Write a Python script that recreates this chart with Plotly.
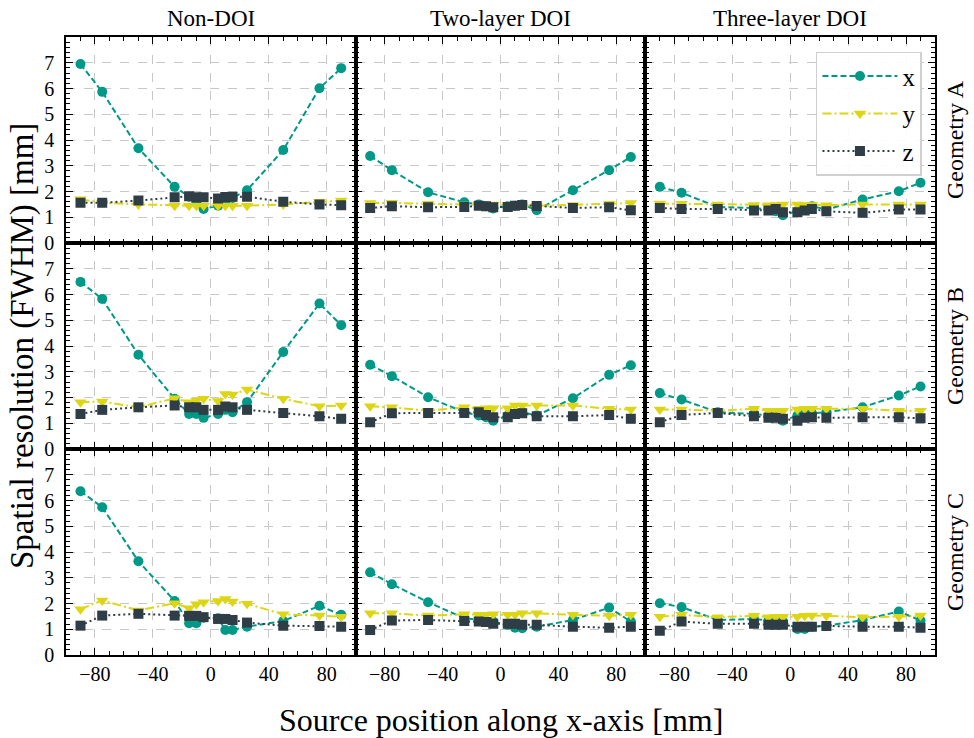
import plotly.graph_objects as go
from plotly.subplots import make_subplots

# Source positions along the x-axis [mm]
positions = [-90, -75, -50, -25, -15, -10, -5, 5, 10, 15, 25, 50, 75, 90]

col_titles = ["Non-DOI", "Two-layer DOI", "Three-layer DOI"]
row_titles = ["Geometry A", "Geometry B", "Geometry C"]
series_names = ["x", "y", "z"]

# Geometry A
A_non_x = [6.95, 5.87, 3.68, 2.18, 1.80, 1.60, 1.32, 1.45, 1.60, 1.75, 2.05, 3.61, 6.01, 6.79]
A_non_y = [1.70, 1.56, 1.50, 1.45, 1.45, 1.45, 1.45, 1.45, 1.45, 1.45, 1.45, 1.50, 1.60, 1.65]
A_non_z = [1.56, 1.56, 1.65, 1.78, 1.82, 1.78, 1.78, 1.73, 1.79, 1.80, 1.80, 1.60, 1.50, 1.47]
A_two_x = [3.38, 2.83, 1.97, 1.58, 1.50, 1.43, 1.34, 1.43, 1.45, 1.50, 1.27, 2.05, 2.83, 3.34]
A_two_y = [1.55, 1.56, 1.52, 1.50, 1.48, 1.48, 1.50, 1.48, 1.47, 1.47, 1.45, 1.48, 1.52, 1.55]
A_two_z = [1.36, 1.43, 1.39, 1.40, 1.45, 1.43, 1.39, 1.40, 1.45, 1.48, 1.44, 1.36, 1.39, 1.27]
A_three_x = [2.18, 1.95, 1.40, 1.36, 1.30, 1.23, 1.08, 1.23, 1.32, 1.43, 1.30, 1.69, 2.01, 2.34]
A_three_y = [1.53, 1.52, 1.50, 1.48, 1.47, 1.48, 1.50, 1.50, 1.48, 1.48, 1.47, 1.50, 1.50, 1.50]
A_three_z = [1.36, 1.32, 1.32, 1.26, 1.26, 1.32, 1.19, 1.19, 1.26, 1.32, 1.23, 1.17, 1.30, 1.30]

# Geometry B
B_non_x = [6.49, 5.83, 3.66, 1.95, 1.36, 1.36, 1.21, 1.36, 1.52, 1.43, 1.82, 3.77, 5.65, 4.81]
B_non_y = [1.82, 1.84, 1.62, 1.97, 1.82, 1.88, 1.95, 1.86, 2.14, 2.12, 2.31, 1.95, 1.66, 1.69]
B_non_z = [1.36, 1.52, 1.62, 1.69, 1.62, 1.62, 1.52, 1.52, 1.65, 1.62, 1.52, 1.40, 1.27, 1.17]
B_two_x = [3.27, 2.83, 2.01, 1.43, 1.30, 1.23, 1.10, 1.30, 1.36, 1.43, 1.30, 1.97, 2.88, 3.25]
B_two_y = [1.66, 1.62, 1.49, 1.62, 1.56, 1.58, 1.58, 1.58, 1.69, 1.69, 1.69, 1.69, 1.56, 1.53]
B_two_z = [1.04, 1.39, 1.40, 1.40, 1.43, 1.32, 1.23, 1.23, 1.36, 1.39, 1.27, 1.27, 1.32, 1.17]
B_three_x = [2.17, 1.92, 1.43, 1.36, 1.30, 1.23, 1.10, 1.30, 1.36, 1.39, 1.43, 1.62, 2.08, 2.43]
B_three_y = [1.53, 1.53, 1.49, 1.56, 1.49, 1.49, 1.49, 1.53, 1.56, 1.56, 1.56, 1.56, 1.49, 1.49]
B_three_z = [1.04, 1.32, 1.40, 1.27, 1.21, 1.21, 1.17, 1.10, 1.21, 1.23, 1.21, 1.23, 1.23, 1.19]

# Geometry C
C_non_x = [6.36, 5.74, 3.64, 2.10, 1.23, 1.23, 1.45, 1.43, 0.97, 0.97, 1.10, 1.32, 1.91, 1.56]
C_non_y = [1.78, 2.12, 1.73, 2.01, 1.82, 1.97, 2.05, 2.10, 2.17, 2.08, 1.99, 1.58, 1.53, 1.49]
C_non_z = [1.14, 1.53, 1.60, 1.53, 1.52, 1.52, 1.47, 1.40, 1.40, 1.36, 1.26, 1.14, 1.13, 1.10]
C_two_x = [3.21, 2.75, 2.05, 1.43, 1.36, 1.30, 1.30, 1.17, 1.06, 1.04, 1.10, 1.36, 1.84, 1.30]
C_two_y = [1.62, 1.62, 1.53, 1.58, 1.56, 1.56, 1.58, 1.56, 1.56, 1.62, 1.62, 1.56, 1.52, 1.56]
C_two_z = [0.97, 1.34, 1.36, 1.32, 1.30, 1.28, 1.21, 1.21, 1.21, 1.17, 1.17, 1.10, 1.06, 1.10]
C_three_x = [2.01, 1.86, 1.36, 1.40, 1.34, 1.36, 1.30, 1.01, 1.01, 1.10, 1.13, 1.36, 1.69, 1.34]
C_three_y = [1.49, 1.56, 1.47, 1.52, 1.47, 1.49, 1.49, 1.49, 1.52, 1.53, 1.52, 1.47, 1.49, 1.53]
C_three_z = [0.94, 1.30, 1.21, 1.21, 1.17, 1.17, 1.17, 1.10, 1.10, 1.10, 1.13, 1.10, 1.10, 1.06]

panels = [
    [(A_non_x, A_non_y, A_non_z), (A_two_x, A_two_y, A_two_z), (A_three_x, A_three_y, A_three_z)],
    [(B_non_x, B_non_y, B_non_z), (B_two_x, B_two_y, B_two_z), (B_three_x, B_three_y, B_three_z)],
    [(C_non_x, C_non_y, C_non_z), (C_two_x, C_two_y, C_two_z), (C_three_x, C_three_y, C_three_z)],
]

FONT = "Liberation Serif"
colors = ["#009988", "#DDD615", "#2F3E46"]
dashes = ["6px,3px", "9px,3px,2px,3px", "2px,3px"]
symbols = ["circle", "triangle-down", "square"]
msizes = [10, 11, 10]

fig = make_subplots(rows=3, cols=3, horizontal_spacing=0, vertical_spacing=0)

for r in range(3):
    for c in range(3):
        for k in range(3):
            show = (r == 0 and c == 2)
            fig.add_trace(
                go.Scatter(
                    x=positions,
                    y=panels[r][c][k],
                    mode="lines+markers",
                    name=series_names[k],
                    legendgroup=series_names[k],
                    showlegend=show,
                    line=dict(color=colors[k], width=2, dash=dashes[k]),
                    marker=dict(symbol=symbols[k], size=msizes[k], color=colors[k], line=dict(width=0)),
                ),
                row=r + 1, col=c + 1,
            )

axis_common = dict(
    showline=True, linecolor="black", linewidth=1.5, mirror="allticks",
    ticks="inside", ticklen=7, tickwidth=1.3, tickcolor="black",
    showgrid=True, gridcolor="#c8c8c8", gridwidth=1, griddash="dash",
    zeroline=False,
    tickfont=dict(family=FONT, size=20, color="black"),
)

for r in range(3):
    for c in range(3):
        fig.update_xaxes(
            range=[-100, 100], tickmode="linear", tick0=0, dtick=40,
            minor=dict(ticks="inside", ticklen=4, tickwidth=1, tickcolor="black", tick0=0, dtick=10, showgrid=False),
            showticklabels=(r == 2),
            **axis_common, row=r + 1, col=c + 1,
        )
        fig.update_yaxes(
            range=[0, 8], tickmode="array", tickvals=list(range(0, 8)),
            minor=dict(ticks="inside", ticklen=4, tickwidth=1, tickcolor="black", tickmode="linear", tick0=0, dtick=0.2, showgrid=False),
            showticklabels=(c == 0), ticklabelstandoff=6,
            **axis_common, row=r + 1, col=c + 1,
        )

annotations = []
col_centers = [1 / 6, 0.5, 5 / 6]
for c, t in enumerate(col_titles):
    annotations.append(dict(text=t, x=col_centers[c], y=1, xref="paper", yref="paper",
                            xanchor="center", yanchor="bottom", yshift=4, showarrow=False,
                            font=dict(family=FONT, size=23, color="black")))
row_centers = [5 / 6, 0.5, 1 / 6]
for r, t in enumerate(row_titles):
    annotations.append(dict(text=t, x=1, y=row_centers[r], xref="paper", yref="paper",
                            xanchor="left", yanchor="middle", xshift=5, textangle=-90, showarrow=False,
                            font=dict(family=FONT, size=24, color="black")))
annotations.append(dict(text="Source position along x-axis [mm]", x=0.5, y=0, xref="paper", yref="paper",
                        xanchor="center", yanchor="top", yshift=-45, showarrow=False,
                        font=dict(family=FONT, size=32, color="black")))
annotations.append(dict(text="Spatial resolution (FWHM) [mm]", x=0, y=0.5, xref="paper", yref="paper",
                        xanchor="center", yanchor="middle", xshift=-44, textangle=-90, showarrow=False,
                        font=dict(family=FONT, size=33, color="black")))

fig.update_layout(
    width=974, height=738,
    margin=dict(l=66, r=39, t=37, b=83),
    paper_bgcolor="white", plot_bgcolor="white",
    font=dict(family=FONT, color="black"),
    annotations=annotations,
    legend=dict(
        x=0.985, y=0.976, xanchor="right", yanchor="top",
        bgcolor="rgba(255,255,255,0.9)", bordercolor="#d0d0d0", borderwidth=1.5,
        font=dict(family=FONT, size=25, color="black"),
        traceorder="grouped", tracegroupgap=2, itemwidth=75,
    ),
)

fig.write_html("out.html")
